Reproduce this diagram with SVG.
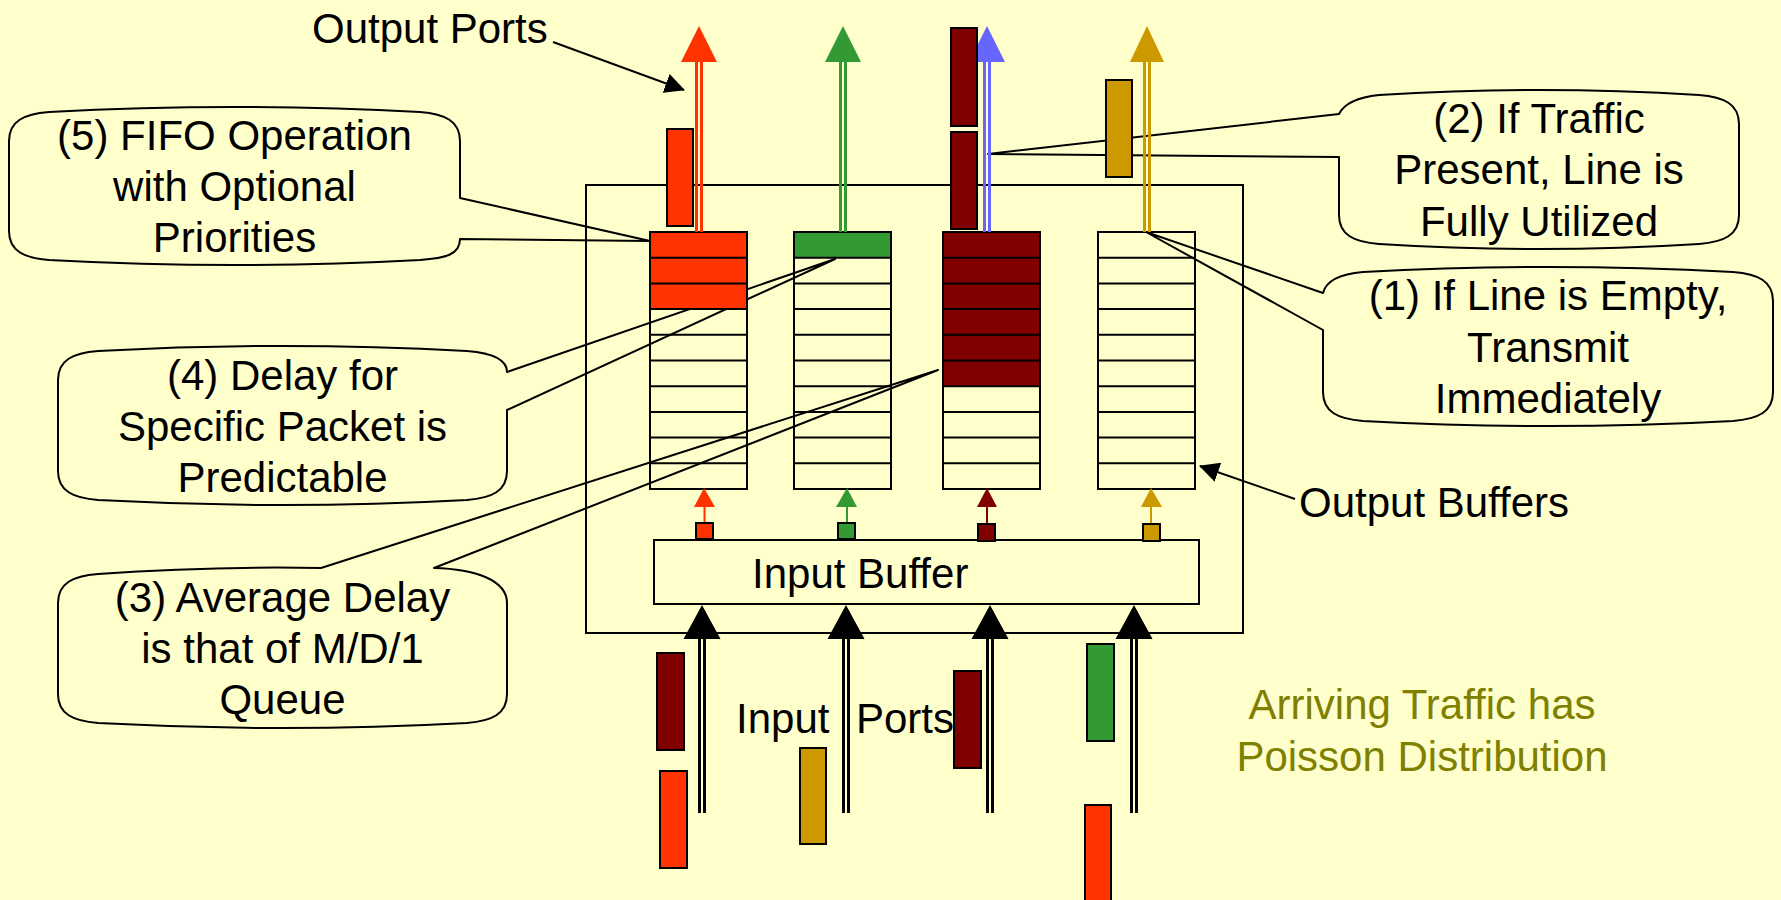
<svg xmlns="http://www.w3.org/2000/svg" width="1781" height="900" viewBox="0 0 1781 900">
<style>
text{font-family:"Liberation Sans",Arial,sans-serif;font-size:42px;fill:#000}
.c{text-anchor:middle}
.bub{fill:none;stroke:#000;stroke-width:2;stroke-linejoin:round}
.box{fill:none;stroke:#000;stroke-width:2}
.cell{stroke:#000;stroke-width:2}
.pk{stroke:#000;stroke-width:2}
.ln{stroke:#000;stroke-width:2;fill:none}
.red{fill:#FF3300}.grn{fill:#339933}.drd{fill:#800000}.gld{fill:#CC9900}.blu{fill:#6666FF}
</style>
<defs>
<marker id="ah" markerUnits="userSpaceOnUse" markerWidth="20" markerHeight="20" viewBox="0 0 20 20" refX="19" refY="10" orient="auto">
<path d="M0,0 L20,10 L0,20 z" fill="#000"/>
</marker>
</defs>
<rect width="1781" height="900" fill="#FFFFCC"/>

<g id="callout5">
<path class="bub" d="M9,141 C9,121 24,114 49,112 Q234.5,102 420,112 C445,114 460,121 460,141 L460,198 L650,241 L460,239 C460,255 445,258 420,260 Q234.5,270 49,260 C24,258 9,251 9,231 Z"/>
<text class="c" x="234.5" y="150">(5) FIFO Operation</text>
<text class="c" x="234.5" y="201">with Optional</text>
<text class="c" x="234.5" y="252">Priorities</text>
</g>
<g id="callout4">
<path class="bub" d="M58,380 C58,360 73,353 98,351 Q282.5,341 467,351 C492,353 507,360 507,372 L835,259 L507,410 L507,471 C507,491 492,498 467,500 Q282.5,510 98,500 C73,498 58,491 58,471 Z"/>
<text class="c" x="282.5" y="390">(4) Delay for</text>
<text class="c" x="282.5" y="441">Specific Packet is</text>
<text class="c" x="282.5" y="492">Predictable</text>
</g>
<g id="callout3">
<path class="bub" d="M58,603 C58,583 73,576 98,574 Q210,566 321,568 L938,370 L434,568 C475,569 507,580 507,603 L507,694 C507,714 492,721 467,723 Q282.5,733 98,723 C73,721 58,714 58,694 Z"/>
<text class="c" x="282.5" y="612">(3) Average Delay</text>
<text class="c" x="282.5" y="663">is that of M/D/1</text>
<text class="c" x="282.5" y="714">Queue</text>
</g>
<g id="callout2">
<path class="bub" d="M1339,114 L988,154 L1339,157 L1339,215 C1339,235 1354,242 1379,244 Q1539,254 1699,244 C1724,242 1739,235 1739,215 L1739,124 C1739,104 1724,97 1699,95 Q1539,85 1379,95 C1360,97 1345,102 1339,114 Z"/>
<text class="c" x="1539" y="133">(2) If Traffic</text>
<text class="c" x="1539" y="184">Present, Line is</text>
<text class="c" x="1539" y="236">Fully Utilized</text>
</g>
<g id="callout1">
<path class="bub" d="M1323,293 L1146,232 L1323,330 L1323,392 C1323,412 1338,419 1363,421 Q1548,431 1733,421 C1758,419 1773,412 1773,392 L1773,301 C1773,281 1758,274 1733,272 Q1548,262 1363,272 C1340,274 1326,281 1323,293 Z"/>
<text class="c" x="1548" y="310">(1) If Line is Empty,</text>
<text class="c" x="1548" y="362">Transmit</text>
<text class="c" x="1548" y="413">Immediately</text>
</g>

<g id="switch">
<rect class="box" x="586" y="185" width="657" height="448"/>
</g>

<g id="input-buffer">
<rect class="box" x="654" y="540" width="545" height="64"/>
<text x="752" y="588">Input Buffer</text>
</g>

<g id="buffer-red">
<rect class="red" x="650" y="232" width="97" height="77.1"/>
<rect class="box" x="650" y="232" width="97" height="257"/>
<path class="ln" d="M650,257.7H747M650,283.4H747M650,309.1H747M650,334.8H747M650,360.5H747M650,386.2H747M650,411.9H747M650,437.6H747M650,463.3H747"/>
</g>
<g id="buffer-green">
<rect class="grn" x="794" y="232" width="97" height="25.7"/>
<rect class="box" x="794" y="232" width="97" height="257"/>
<path class="ln" d="M794,257.7H891M794,283.4H891M794,309.1H891M794,334.8H891M794,360.5H891M794,386.2H891M794,411.9H891M794,437.6H891M794,463.3H891"/>
</g>
<g id="buffer-darkred">
<rect class="drd" x="943" y="232" width="97" height="154.2"/>
<rect class="box" x="943" y="232" width="97" height="257"/>
<path class="ln" d="M943,257.7H1040M943,283.4H1040M943,309.1H1040M943,334.8H1040M943,360.5H1040M943,386.2H1040M943,411.9H1040M943,437.6H1040M943,463.3H1040"/>
</g>
<g id="buffer-gold">
<rect class="box" x="1098" y="232" width="97" height="257"/>
<path class="ln" d="M1098,257.7H1195M1098,283.4H1195M1098,309.1H1195M1098,334.8H1195M1098,360.5H1195M1098,386.2H1195M1098,411.9H1195M1098,437.6H1195M1098,463.3H1195"/>
</g>

<g id="connectors">
<!-- output ports -->
<g stroke-width="3">
<path d="M696.5,62V232M701.5,62V232" stroke="#FF3300"/>
<path d="M840.5,62V232M845.5,62V232" stroke="#339933"/>
<path d="M984.5,62V232M989.5,62V232" stroke="#6666FF"/>
<path d="M1144.5,62V232M1149.5,62V232" stroke="#CC9900"/>
</g>
<polygon class="red" points="699,26 681,62 717,62"/>
<polygon class="grn" points="843,26 825,62 861,62"/>
<polygon class="blu" points="987,26 969,62 1005,62"/>
<polygon class="gld" points="1147,26 1130,62 1164,62"/>
<!-- input ports -->
<path d="M699.5,639V813M704.5,639V813M843.5,639V813M848.5,639V813M987.5,639V813M992.5,639V813M1131.5,639V813M1136.5,639V813" stroke="#000" stroke-width="3"/>
<polygon points="702,605 683.5,639 720.5,639" fill="#000"/>
<polygon points="846,605 827.5,639 864.5,639" fill="#000"/>
<polygon points="990,605 971.5,639 1008.5,639" fill="#000"/>
<polygon points="1134,605 1115.5,639 1152.5,639" fill="#000"/>
<!-- input buffer to output buffers -->
<path d="M704.5,506V523" stroke="#FF3300" stroke-width="2"/>
<path d="M847,506V523" stroke="#339933" stroke-width="2"/>
<path d="M987,506V524" stroke="#800000" stroke-width="2"/>
<path d="M1151,506V524" stroke="#CC9900" stroke-width="2"/>
<polygon class="red" points="704,488 694,507 715,507"/>
<polygon class="grn" points="847,488 836,507 857,507"/>
<polygon class="drd" points="987,488 977,507 997,507"/>
<polygon class="gld" points="1151,488 1141,507 1162,507"/>
<rect class="red pk" x="696" y="523" width="17" height="16"/>
<rect class="grn pk" x="838" y="523" width="17" height="16"/>
<rect class="drd pk" x="978" y="524" width="17" height="17"/>
<rect class="gld pk" x="1143" y="524" width="17" height="17"/>
<!-- label arrows -->
<path class="ln" d="M553,42 L684,90" marker-end="url(#ah)"/>
<path class="ln" d="M1295,499 L1200,466" marker-end="url(#ah)"/>
</g>

<g id="packets">
<rect class="red pk" x="667" y="129" width="26" height="97"/>
<rect class="drd pk" x="951" y="28" width="26" height="98"/>
<rect class="drd pk" x="951" y="132" width="26" height="97"/>
<rect class="gld pk" x="1106" y="80" width="26" height="97"/>
<rect class="drd pk" x="657" y="653" width="27" height="97"/>
<rect class="red pk" x="660" y="771" width="27" height="97"/>
<rect class="gld pk" x="800" y="748" width="26" height="96"/>
<rect class="drd pk" x="954" y="671" width="27" height="97"/>
<rect class="grn pk" x="1087" y="644" width="27" height="97"/>
<rect class="red pk" x="1085" y="805" width="26" height="100"/>
</g>

<g id="labels">
<text x="312" y="43">Output Ports</text>
<text x="1299" y="517">Output Buffers</text>
<text x="736" y="733">Input</text>
<text x="856" y="733">Ports</text>
<text class="c" x="1422" y="719" style="fill:#808000">Arriving Traffic has</text>
<text class="c" x="1422" y="771" style="fill:#808000">Poisson Distribution</text>
</g>
</svg>
